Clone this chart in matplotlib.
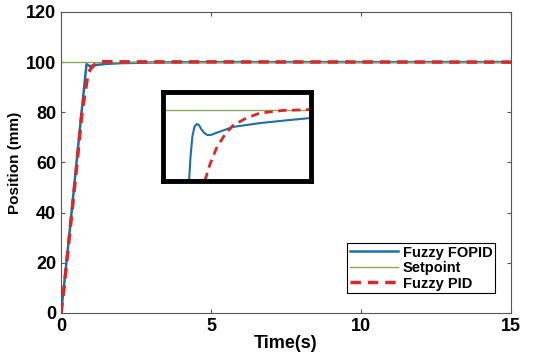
import matplotlib.pyplot as plt
import numpy as np

plt.rcParams['font.family'] = ['Liberation Sans', 'DejaVu Sans']
plt.rcParams['font.weight'] = 'bold'

# main response
t_fopid = [0, 0.1, 0.3, 0.5, 0.7, 0.85, 0.95, 1.2, 1.5, 2.0, 3.0, 5.0, 15.0]
y_fopid = [0, 11, 34, 58, 82, 99.2, 98.4, 98.9, 99.3, 99.6, 99.85, 100, 100]
t_pid = [0, 0.1, 0.3, 0.5, 0.7, 0.9, 1.0, 1.15, 1.35, 2.0, 15.0]
y_pid = [0, 10, 33, 56, 80, 95.5, 97.5, 99.4, 100.2, 100.1, 100]
t_set = [0, 15]
y_set = [100, 100]

# zoomed view
inset_t_fopid = [0.955, 0.975, 1.0, 1.03, 1.06, 1.09, 1.12, 1.16, 1.2, 1.25, 1.33, 1.55, 1.911, 2.226, 2.6]
inset_fopid = [96.8, 97.9, 98.8, 99.25, 99.35, 99.3, 99.12, 98.95, 98.86, 98.86, 98.96, 99.22, 99.39, 99.5, 99.62]
inset_t_pid = [1.168, 1.235, 1.326, 1.438, 1.55, 1.731, 1.911, 2.226, 2.6]
inset_pid = [96.8, 97.52, 98.27, 98.87, 99.29, 99.62, 99.84, 99.96, 100.0]

blue = '#1f6fa6'
green = '#8aa85a'
red = '#d8282b'

fig = plt.figure(figsize=(5.5, 3.61), dpi=100)
ax = fig.add_axes([0.111, 0.133, 0.818, 0.834])

ax.plot(t_fopid, y_fopid, color=blue, lw=1.8, label='Fuzzy FOPID')
ax.plot(t_set, y_set, color=green, lw=1.0, label='Setpoint')
ax.plot(t_pid, y_pid, color=red, lw=2.5, ls=(0, (3, 2)), label='Fuzzy PID')

ax.set_xlim(0, 15)
ax.set_ylim(0, 120)
ax.set_xticks([0, 5, 10, 15])
ax.set_yticks(np.arange(0, 121, 20))
ax.tick_params(direction='in', top=True, right=True, labelsize=13, length=3, color='#555555')
for s in ax.spines.values():
    s.set_color('#555555')
    s.set_linewidth(0.8)
ax.set_xlabel('Time(s)', fontsize=13, fontweight='bold', labelpad=0)
ax.set_ylabel('Position (mm)', fontsize=11, fontweight='bold', labelpad=3)

leg = ax.legend(loc='lower right', bbox_to_anchor=(0.965, 0.065), fontsize=10.5,
                fancybox=False, edgecolor='black', framealpha=1, handlelength=3.3,
                borderpad=0.2, labelspacing=0.1, handletextpad=0.3, borderaxespad=0)
leg.get_frame().set_linewidth(0.8)

axins = fig.add_axes([0.296, 0.499, 0.269, 0.247])
axins.plot([0.6, 2.6], y_set, color=green, lw=1.0)
axins.plot(inset_t_fopid, inset_fopid, color=blue, lw=1.5)
axins.plot(inset_t_pid, inset_pid, color=red, lw=2.0, ls=(0, (3, 2)))
axins.set_xlim(0.6, 2.6)
axins.set_ylim(96.8, 100.8)
axins.set_xticks([])
axins.set_yticks([])
for s in axins.spines.values():
    s.set_linewidth(3.5)
    s.set_color('black')

fig.savefig('out.png', dpi=100)
